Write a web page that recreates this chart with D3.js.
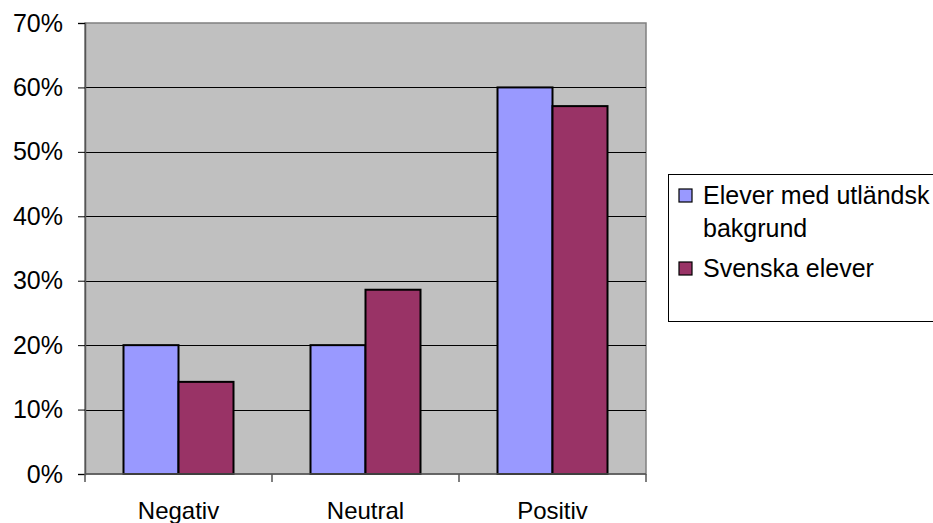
<!DOCTYPE html>
<html><head><meta charset="utf-8">
<script src="https://cdn.jsdelivr.net/npm/d3@7"></script>
<style>body{margin:0;background:#fff}svg{display:block;font-family:"Liberation Sans",Arial,sans-serif}</style>
</head><body><svg id="c" width="933" height="523"></svg>
<script>
const categories = ["Negativ", "Neutral", "Positiv"];
const seriesNames = ["Elever med utländsk bakgrund", "Svenska elever"];
const foreignValues = [0.20, 0.20, 0.60];
const swedishValues = [0.143, 0.286, 0.571];
const yTicks = [0, 0.1, 0.2, 0.3, 0.4, 0.5, 0.6, 0.7];
const colors = ["#9999FF", "#993366"];

const svg = d3.select("#c");
const L = 85, T = 23, R = 646, B = 474;
const x = d3.scaleBand().domain(categories).range([L, R]);
const y = d3.scaleLinear().domain([0, 0.7]).range([B, T]);
const fmt = d3.format(".0%");

svg.append("rect").attr("x", L).attr("y", T).attr("width", R - L).attr("height", B - T)
  .attr("fill", "#C0C0C0").attr("stroke", "#808080").attr("stroke-width", 1.5);

// gridlines
svg.append("g").selectAll("line").data(yTicks.filter(d => d > 0 && d < 0.7)).join("line")
  .attr("x1", L).attr("x2", R).attr("y1", d => Math.round(y(d)) + 0.5).attr("y2", d => Math.round(y(d)) + 0.5)
  .attr("stroke", "#000").attr("stroke-width", 1);

// y axis
const ya = svg.append("g").attr("transform", `translate(${L},0)`)
  .call(d3.axisLeft(y).tickValues(yTicks).tickFormat(fmt).tickSize(7).tickPadding(15));
ya.select(".domain").attr("stroke", "#555").attr("stroke-width", 1.5);
ya.selectAll(".tick line").attr("stroke", "#000");
ya.selectAll("text").attr("font-size", 25).attr("fill", "#000").attr("font-family", "Liberation Sans, Arial, sans-serif");

// bars
const inner = d3.scaleBand().domain([0, 1]).range([0, x.bandwidth()]).paddingOuter(0.7).paddingInner(0);
const data = [foreignValues, swedishValues];
data.forEach((vals, si) => {
  svg.append("g").selectAll("rect").data(categories).join("rect")
    .attr("x", (c) => x(c) + inner(si))
    .attr("y", (c, i) => y(vals[i]))
    .attr("width", inner.bandwidth())
    .attr("height", (c, i) => B - y(vals[i]))
    .attr("fill", colors[si]).attr("stroke", "#000").attr("stroke-width", 2);
});

// x axis
const xa = svg.append("g").attr("transform", `translate(0,${B})`);
xa.append("line").attr("x1", L).attr("x2", R).attr("stroke", "#555").attr("stroke-width", 1.5);
const bounds = [L].concat(categories.map(c => x(c) + x.bandwidth()));
xa.selectAll("line.t").data(bounds).join("line").attr("class", "t")
  .attr("x1", d => d).attr("x2", d => d).attr("y1", 0).attr("y2", 8).attr("stroke", "#555").attr("stroke-width", 1.5);
xa.selectAll("text").data(categories).join("text")
  .attr("x", c => x(c) + x.bandwidth() / 2).attr("y", 45)
  .attr("text-anchor", "middle").attr("font-size", 24).attr("fill", "#000").text(c => c);

// legend
const lg = svg.append("g");
lg.append("rect").attr("x", 668.5).attr("y", 174.5).attr("width", 300).attr("height", 147)
  .attr("fill", "#fff").attr("stroke", "#000").attr("stroke-width", 1);
const legendRows = [{ lines: ["Elever med utländsk", "bakgrund"], y: 204 }, { lines: ["Svenska elever"], y: 277 }];
legendRows.forEach((r, i) => {
  lg.append("rect").attr("x", 679).attr("y", r.y - 15).attr("width", 13).attr("height", 13)
    .attr("fill", colors[i]).attr("stroke", "#000").attr("stroke-width", 1.2);
  r.lines.forEach((t, j) => {
    lg.append("text").attr("x", 703).attr("y", r.y + j * 33).attr("font-size", 25).attr("fill", "#000").text(t);
  });
});
</script></body></html>
